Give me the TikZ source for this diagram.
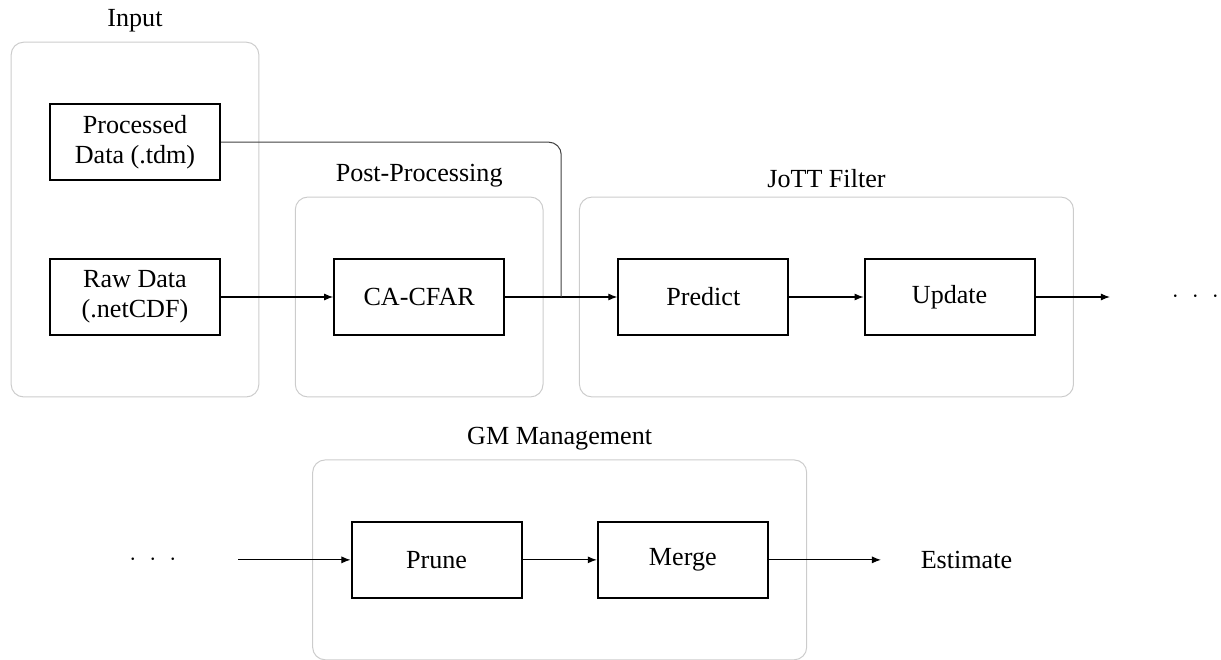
\documentclass[tikz,border=0pt]{standalone}
\usepackage{fontspec}
\setmainfont[Scale=1.04]{Liberation Serif}
\usetikzlibrary{positioning, fit, calc, arrows.meta}

\begin{document}
\begin{tikzpicture}[node distance=1.57cm, >={Latex[length=3.6pt,width=2.8pt]},
    block/.style={draw, rectangle, thick, minimum width=2.38cm, minimum height=1.07cm, align=center},
    blank/.style={rectangle, minimum width=2.38cm, minimum height=1.07cm},
    group/.style={draw=black!20, rounded corners=5pt, inner xsep=0.53cm, inner ysep=0.85cm}]
    \useasboundingbox (-1.89,-5.07) rectangle (15.204,4.158);

    % Nodes
    \node[block] (raw) {Raw Data\\(.netCDF)};
    \node[block, above=1.07cm of raw] (processed) {Processed\\Data (.tdm)};
    \node[block, right=of raw] (cfar) {CA-CFAR};
    \node[block, right=of cfar] (predict) {Predict};
    \node[block, right=1.04cm of predict] (update) {Update};
    \node[blank, right=1.04cm of update] (more) {${\cdot}\enspace{\cdot}\enspace{\cdot}$};

    \node[blank] (resume) at (0.25,-3.68) {${\cdot}\enspace{\cdot}\enspace{\cdot}$};
    \node[block, right=of resume] (prune) {Prune};
    \node[block, right=1.04cm of prune] (merge) {Merge};
    \node[blank, right=of merge] (estimate) {Estimate};

    % Groups
    \node[group, fit=(processed)(raw), label=above:Input] (input) {};
    \node[group, fit=(cfar), label=above:Post-Processing] (post) {};
    \node[group, fit=(predict)(update), label=above:JoTT Filter] (jott) {};
    \node[group, fit=(prune)(merge), label=above:GM Management] (gm) {};

    % Arrows
    \draw[->] (raw) -- (cfar);
    \draw[->] (cfar) -- (predict);
    \draw[->] (predict) -- (update);
    \draw[->] (update) -- (more);
    \draw[black!75, rounded corners=5pt] (processed) -| ($(cfar.east)!0.5!(predict.west)$);
    \draw[->] (resume) -- (prune);
    \draw[->] (prune) -- (merge);
    \draw[->] (merge) -- (estimate);
\end{tikzpicture}
\end{document}
